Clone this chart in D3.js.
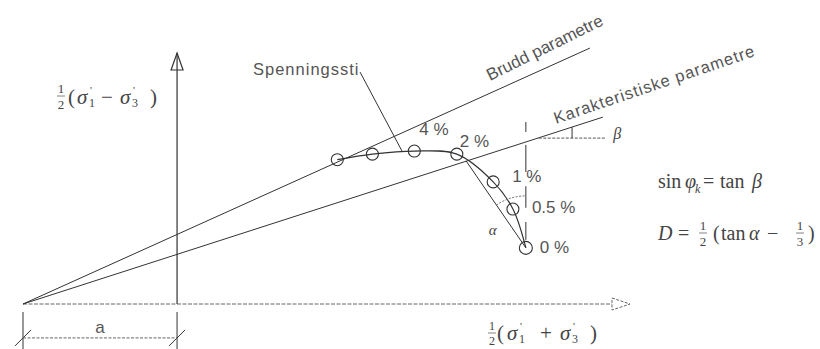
<!DOCTYPE html>
<html>
<head>
<meta charset="utf-8">
<script src="https://cdn.jsdelivr.net/npm/d3@7"></script>
<style>
body { margin: 0; background: #fff; }
svg { display: block; }
.lbl { font-family: "Liberation Sans", Arial, sans-serif; fill: #555; }
.math { font-family: "Liberation Serif", "Times New Roman", serif; fill: #444; }
</style>
</head>
<body>
<svg id="chart" width="820" height="349"></svg>
<script>
// stress path, p = 1/2(s1'+s3'), q = 1/2(s1'-s3')
var pathP = [26.0, 31.7, 38.5, 45.4, 51.3, 54.5, 56.6];
var pathQ = [23.4, 24.3, 24.8, 24.3, 19.8, 15.4, 9.1];
var strainLabels = ["", "", "4 %", "2 %", "1 %", "0.5 %", "0 %"];

var a = 25;                    // envelopes meet the p axis at -a
var bruddEnd = [67.0, 41.5];   // failure envelope end
var karEnd = [69.1, 30.3];     // characteristic envelope end
var yieldPt = [46.9, 23.2];    // path crosses characteristic line
var axisP = [-25, 73.5];
var axisQ = [0, 40.7];
var vertP = 56.6;
var vertQ = [[27.9, 29.5], [21.4, 25.8], [15.6, 19.1], [10.4, 13.3]];
var betaP = [58.7, 69.5], betaQ = 26.9, betaTickP = 64.1;
var leader = [[29.7, 37.6], [36.5, 24.8]];
var dimQ = -5.5, dimExt = [-1.3, -7.3];

var svg = d3.select("#chart");

var x = d3.scaleLinear().domain(axisP).range([23, 630]);
var y = d3.scaleLinear().domain(axisQ).range([304, 53]);

var line = d3.line().x(function (d) { return x(d[0]); }).y(function (d) { return y(d[1]); });

var ink = "#333";

////////////// AXES

svg.append("line")
    .attr("x1", x(-a)).attr("x2", x(axisP[1]) - 18)
    .attr("y1", y(0)).attr("y2", y(0))
    .style("stroke", "#666").style("stroke-width", 1).style("stroke-dasharray", "4,1.5");

svg.append("path")
    .attr("d", "M" + (x(axisP[1]) - 18) + "," + (y(0) - 6) + "L" + x(axisP[1]) + "," + y(0) + "L" + (x(axisP[1]) - 18) + "," + (y(0) + 6) + "Z")
    .style("fill", "#fff").style("stroke", "#666").style("stroke-dasharray", "3,1.5");

svg.append("line")
    .attr("x1", x(0)).attr("x2", x(0))
    .attr("y1", y(0)).attr("y2", y(axisQ[1]))
    .style("stroke", ink).style("stroke-width", 1.2);

svg.append("path")
    .attr("d", "M" + (x(0) - 6) + "," + (y(axisQ[1]) + 17) + "L" + x(0) + "," + y(axisQ[1]) + "L" + (x(0) + 6) + "," + (y(axisQ[1]) + 17) + "Z")
    .style("fill", "none").style("stroke", ink).style("stroke-width", 1.2);

////////////// ENVELOPES

svg.append("path").attr("d", line([[-a, 0], bruddEnd]))
    .style("fill", "none").style("stroke", ink).style("stroke-width", 1);

svg.append("path").attr("d", line([[-a, 0], karEnd]))
    .style("fill", "none").style("stroke", ink).style("stroke-width", 1);

var bruddAng = Math.atan2(y(bruddEnd[1]) - y(0), x(bruddEnd[0]) - x(-a)) * 180 / Math.PI;
var karAng = Math.atan2(y(karEnd[1]) - y(0), x(karEnd[0]) - x(-a)) * 180 / Math.PI;

svg.append("text").attr("class", "lbl")
    .attr("transform", "translate(490,81) rotate(" + (bruddAng - 2) + ")")
    .style("font-size", "17px")
    .text("Brudd parametre");

svg.append("text").attr("class", "lbl")
    .attr("transform", "translate(556,124) rotate(" + (karAng - 1) + ")")
    .style("font-size", "16.5px").style("letter-spacing", "0.95px")
    .text("Karakteristiske parametre");

// beta angle
svg.append("line")
    .attr("x1", x(betaP[0])).attr("x2", x(betaP[1]))
    .attr("y1", y(betaQ)).attr("y2", y(betaQ))
    .style("stroke", "#555").style("stroke-dasharray", "3,1.5");

var karSlope = karEnd[1] / (karEnd[0] + a);
svg.append("line")
    .attr("x1", x(betaTickP)).attr("x2", x(betaTickP))
    .attr("y1", y(betaQ)).attr("y2", y(karSlope * (betaTickP + a)))
    .style("stroke", ink);

svg.append("text").attr("class", "math")
    .attr("x", x(betaP[1]) + 8).attr("y", y(betaQ) + 1)
    .style("font-size", "16px").style("font-style", "italic")
    .text("β");

////////////// STRESS PATH

var pts = pathP.map(function (p, i) { return [p, pathQ[i]]; });

svg.append("path")
    .attr("d", line.curve(d3.curveCatmullRom)(pts))
    .style("fill", "none").style("stroke", ink).style("stroke-width", 1.2);
line.curve(d3.curveLinear);

svg.append("path")
    .attr("d", line([yieldPt, pts[pts.length - 1]]))
    .style("fill", "none").style("stroke", ink).style("stroke-width", 1);

// vertical through the 0 % point
vertQ.forEach(function (s) {
    svg.append("line")
        .attr("x1", x(vertP)).attr("x2", x(vertP))
        .attr("y1", y(s[0])).attr("y2", y(s[1]))
        .style("stroke", ink);
});

// alpha arc
var cx = x(pts[6][0]), cy = y(pts[6][1]);
var a0 = Math.atan2(y(yieldPt[1]) - cy, x(yieldPt[0]) - cx);
var arc = d3.path();
arc.moveTo(cx + 52 * Math.cos(a0), cy + 52 * Math.sin(a0));
arc.arc(cx, cy, 52, a0, -Math.PI / 2);
svg.append("path").attr("d", arc.toString())
    .style("fill", "none").style("stroke", "#666").style("stroke-dasharray", "2,1.5");

svg.append("text").attr("class", "math")
    .attr("x", cx - 37).attr("y", cy - 13)
    .style("font-size", "15px").style("font-style", "italic")
    .text("α");

svg.selectAll(".pt")
    .data(pts)
    .enter().append("circle")
    .attr("class", "pt")
    .attr("cx", function (d) { return x(d[0]); })
    .attr("cy", function (d) { return y(d[1]); })
    .attr("r", function (d, i) { return i === 6 ? 6.5 : 6; })
    .style("fill", "none").style("stroke", ink).style("stroke-width", 1.1);

var lblDx = [0, 0, 5, 3, 19, 19, 14], lblDy = [0, 0, -16, -7, 0, 4, 5];
svg.selectAll(".strain")
    .data(pts)
    .enter().append("text")
    .attr("class", "lbl strain")
    .attr("x", function (d, i) { return x(d[0]) + lblDx[i]; })
    .attr("y", function (d, i) { return y(d[1]) + lblDy[i]; })
    .style("font-size", "17px")
    .text(function (d, i) { return strainLabels[i]; });

svg.append("text").attr("class", "lbl")
    .attr("x", 253).attr("y", 75)
    .style("font-size", "16.5px").style("letter-spacing", "1px")
    .text("Spenningssti");

svg.append("path").attr("d", line(leader))
    .style("fill", "none").style("stroke", ink);

////////////// DIMENSION a

[-a, 0].forEach(function (p) {
    svg.append("line")
        .attr("x1", x(p)).attr("x2", x(p))
        .attr("y1", y(dimExt[0])).attr("y2", y(dimExt[1]))
        .style("stroke", ink);
    svg.append("line")
        .attr("x1", x(p) - 8).attr("x2", x(p) + 8)
        .attr("y1", y(dimQ) + 8).attr("y2", y(dimQ) - 8)
        .style("stroke", ink);
});

svg.append("line")
    .attr("x1", x(-a)).attr("x2", x(0))
    .attr("y1", y(dimQ)).attr("y2", y(dimQ))
    .style("stroke", "#666").style("stroke-dasharray", "3,1.5");

svg.append("text").attr("class", "lbl")
    .attr("x", (x(-a) + x(0)) / 2).attr("y", y(dimQ) - 5)
    .style("font-size", "17px").style("text-anchor", "middle")
    .text("a");

////////////// MATH LABELS

var frac = function (gx, gy, num, den, size) {
    svg.append("text").attr("class", "math")
        .attr("x", gx).attr("y", gy - 3).style("font-size", size + "px").style("text-anchor", "middle").text(num);
    svg.append("line")
        .attr("x1", gx - 4).attr("x2", gx + 4).attr("y1", gy).attr("y2", gy)
        .style("stroke", "#666").style("stroke-width", 0.8);
    svg.append("text").attr("class", "math")
        .attr("x", gx).attr("y", gy + size).style("font-size", size + "px").style("text-anchor", "middle").text(den);
};

// text pieces placed at own x, [x, string, italic]
var mathRow = function (by, size, parts) {
    var t = svg.append("text").attr("class", "math").attr("y", by).style("font-size", size + "px");
    parts.forEach(function (p) {
        t.append("tspan").attr("x", p[0]).attr("y", by).style("font-style", p[2] ? "italic" : "normal").text(p[1]);
    });
};

// sigma with prime stacked over subscript
var sig = function (sx, by, sub) {
    mathRow(by, 21, [[sx, "σ", true]]);
    svg.append("text").attr("class", "math").attr("x", sx + 13).attr("y", by - 10).style("font-size", "11px").text("'");
    svg.append("text").attr("class", "math").attr("x", sx + 12).attr("y", by + 3).style("font-size", "12px").text(sub);
};

frac(61, 96, "1", "2", 13);
mathRow(104, 21, [[68, "("], [101, "−"], [150, ")"]]);
sig(77, 104, "1");
sig(120, 104, "3");

frac(492, 333, "1", "2", 12);
mathRow(340, 21, [[497, "("], [540, "+"], [590, ")"]]);
sig(507, 340, "1");
sig(560, 340, "3");

mathRow(188, 20, [[658, "sin"], [685, "φ", true], [703, "="], [720, "tan"], [752, "β", true]]);
svg.append("text").attr("class", "math").attr("x", 695).attr("y", 193).style("font-size", "12px").style("font-style", "italic").text("k");

mathRow(240, 20, [[658, "D", true], [678, "="], [713, "("], [721, "tan"], [749, "α", true], [767, "−"], [808, ")"]]);
frac(703, 233, "1", "2", 13);
frac(800, 233, "1", "3", 13);
</script>
</body>
</html>
